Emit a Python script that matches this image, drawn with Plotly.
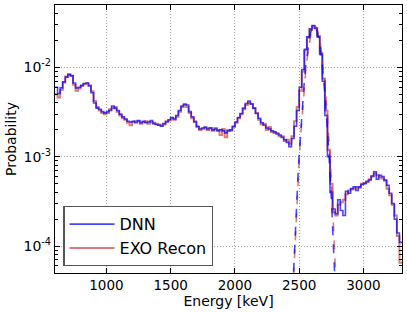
import plotly.graph_objects as go

# ---- data ----
bin_start = 600.0
bin_width = 20.0

dnn = [6.0e-3, 5.1e-3, 5.9e-3, 6.9e-3, 7.8e-3, 8.3e-3, 8.1e-3, 6.7e-3, 5.9e-3, 6.0e-3,
       6.3e-3, 6.6e-3, 6.7e-3, 6.2e-3, 5.2e-3, 4.0e-3, 3.5e-3, 3.4e-3, 3.2e-3, 3.1e-3,
       3.2e-3, 3.3e-3, 3.7e-3, 3.5e-3, 3.3e-3, 3.0e-3, 2.8e-3, 2.65e-3, 2.5e-3, 2.45e-3,
       2.5e-3, 2.4e-3, 2.55e-3, 2.4e-3, 2.5e-3, 2.4e-3, 2.45e-3, 2.55e-3, 2.35e-3, 2.3e-3,
       2.25e-3, 2.2e-3, 2.35e-3, 2.45e-3, 2.6e-3, 2.75e-3, 2.65e-3, 2.9e-3, 3.3e-3, 3.7e-3,
       3.9e-3, 3.8e-3, 3.2e-3, 2.8e-3, 2.45e-3, 2.2e-3, 2.05e-3, 2.1e-3, 2.15e-3, 2.05e-3,
       2.1e-3, 2.0e-3, 2.05e-3, 1.95e-3, 2.0e-3, 1.95e-3, 1.85e-3, 1.95e-3, 2.0e-3, 2.2e-3,
       2.45e-3, 2.75e-3, 3.05e-3, 3.5e-3, 3.95e-3, 4.2e-3, 3.9e-3, 3.5e-3, 3.05e-3, 2.7e-3,
       2.4e-3, 2.25e-3, 2.1e-3, 2.05e-3, 1.95e-3, 1.9e-3, 1.8e-3, 1.75e-3, 1.65e-3, 1.55e-3,
       1.45e-3, 1.3e-3, 1.6e-3, 2.2e-3, 3.3e-3, 6.0e-3, 9.5e-3, 1.6e-2, 2.2e-2, 2.7e-2,
       2.95e-2, 2.75e-2, 2.2e-2, 1.4e-2, 7.0e-3, 2.9e-3, 1.0e-3, 4.0e-4, 2.6e-4, 2.3e-4,
       3.3e-4, 2.5e-4, 2.2e-4, 4.1e-4, 3.9e-4, 4.4e-4, 4.6e-4, 4.2e-4, 4.6e-4, 4.9e-4,
       5.0e-4, 5.3e-4, 5.5e-4, 6.1e-4, 6.8e-4, 5.6e-4, 6.2e-4, 6.0e-4, 5.5e-4, 4.8e-4,
       3.9e-4, 3.0e-4, 2.0e-4, 1.4e-4, 1.1e-4]

exo = [5.0e-3, 4.6e-3, 5.6e-3, 6.8e-3, 7.9e-3, 8.4e-3, 8.0e-3, 6.4e-3, 5.5e-3, 5.8e-3,
       6.2e-3, 6.5e-3, 6.6e-3, 6.3e-3, 5.4e-3, 4.2e-3, 3.6e-3, 3.3e-3, 3.1e-3, 3.0e-3,
       3.1e-3, 3.4e-3, 3.5e-3, 3.6e-3, 3.2e-3, 2.9e-3, 2.7e-3, 2.6e-3, 2.4e-3, 2.25e-3,
       2.45e-3, 2.5e-3, 2.5e-3, 2.35e-3, 2.45e-3, 2.5e-3, 2.35e-3, 2.45e-3, 2.4e-3, 2.35e-3,
       2.3e-3, 2.25e-3, 2.3e-3, 2.5e-3, 2.55e-3, 2.7e-3, 2.6e-3, 2.8e-3, 3.2e-3, 3.6e-3,
       3.8e-3, 3.6e-3, 3.1e-3, 2.7e-3, 2.5e-3, 2.15e-3, 2.0e-3, 2.05e-3, 2.1e-3, 2.0e-3,
       2.1e-3, 1.95e-3, 2.1e-3, 2.0e-3, 1.75e-3, 2.05e-3, 1.65e-3, 2.0e-3, 1.95e-3, 2.15e-3,
       2.4e-3, 2.7e-3, 3.0e-3, 3.4e-3, 3.8e-3, 4.0e-3, 3.9e-3, 3.5e-3, 3.1e-3, 2.6e-3,
       2.3e-3, 2.35e-3, 2.0e-3, 2.15e-3, 1.9e-3, 1.85e-3, 1.85e-3, 1.7e-3, 1.7e-3, 1.5e-3,
       1.55e-3, 1.4e-3, 1.7e-3, 2.5e-3, 3.6e-3, 5.5e-3, 9.0e-3, 1.55e-2, 2.15e-2, 2.65e-2,
       2.9e-2, 2.75e-2, 2.25e-2, 1.45e-2, 7.5e-3, 3.3e-3, 1.2e-3, 5.0e-4, 2.4e-4, 2.2e-4,
       2.9e-4, 3.1e-4, 3.3e-4, 3.8e-4, 4.2e-4, 4.3e-4, 4.4e-4, 4.6e-4, 4.5e-4, 5.0e-4,
       5.1e-4, 5.2e-4, 5.6e-4, 6.0e-4, 6.5e-4, 6.2e-4, 5.9e-4, 5.7e-4, 5.4e-4, 4.4e-4,
       3.7e-4, 2.9e-4, 2.2e-4, 1.3e-4, 6.5e-5]

fit_energy_dnn = [2450, 2460, 2470, 2480, 2490, 2500, 2510, 2520, 2530, 2540, 2550, 2560,
                  2570, 2580, 2590, 2600, 2610, 2620, 2630, 2640, 2650, 2660, 2670, 2680,
                  2690, 2700, 2710, 2720, 2730, 2740, 2750, 2760, 2770, 2780, 2790]
fit_dnn = [3.25e-5, 7.2e-5, 1.52e-4, 3.05e-4, 5.8e-4, 1.06e-3, 1.83e-3, 3.0e-3, 4.72e-3,
           7.04e-3, 1.0e-2, 1.35e-2, 1.74e-2, 2.13e-2, 2.48e-2, 2.75e-2, 2.9e-2, 2.92e-2,
           2.79e-2, 2.54e-2, 2.2e-2, 1.82e-2, 1.43e-2, 1.07e-2, 7.58e-3, 5.13e-3, 3.3e-3,
           2.03e-3, 1.18e-3, 6.57e-4, 3.47e-4, 1.75e-4, 8.4e-5, 3.8e-5, 1.66e-5]

fit_energy_exo = [2450, 2460, 2470, 2480, 2490, 2500, 2510, 2520, 2530, 2540, 2550, 2560,
                  2570, 2580, 2590, 2600, 2610, 2620, 2630, 2640, 2650, 2660, 2670, 2680,
                  2690, 2700, 2710, 2720, 2730, 2740, 2750, 2760, 2770, 2780, 2790, 2800]
fit_exo = [2.9e-5, 6.3e-5, 1.33e-4, 2.64e-4, 5.0e-4, 9.1e-4, 1.58e-3, 2.6e-3, 4.1e-3,
           6.15e-3, 8.8e-3, 1.2e-2, 1.57e-2, 1.95e-2, 2.31e-2, 2.61e-2, 2.82e-2, 2.9e-2,
           2.85e-2, 2.66e-2, 2.38e-2, 2.03e-2, 1.65e-2, 1.27e-2, 9.4e-3, 6.6e-3, 4.46e-3,
           2.86e-3, 1.75e-3, 1.02e-3, 5.7e-4, 3.0e-4, 1.53e-4, 7.4e-5, 3.4e-5, 1.5e-5]

x_ticks = [1000, 1500, 2000, 2500, 3000]
y_ticks = [1e-4, 1e-3, 1e-2]
y_tick_labels = ["10<sup>-4</sup>", "10<sup>-3</sup>", "10<sup>-2</sup>"]
y_minor_ticks = [6e-5, 7e-5, 8e-5, 9e-5,
                 2e-4, 3e-4, 4e-4, 5e-4, 6e-4, 7e-4, 8e-4, 9e-4,
                 2e-3, 3e-3, 4e-3, 5e-3, 6e-3, 7e-3, 8e-3, 9e-3,
                 2e-2, 3e-2, 4e-2]

# ---- step-histogram coordinates ----
def step_xy(vals):
    xs = [bin_start + i * bin_width for i in range(len(vals) + 1)]
    ys = list(vals) + [vals[-1]]
    return xs, ys

BLUE = "rgba(0,0,255,0.72)"
RED = "rgba(200,40,40,0.62)"

fig = go.Figure()
xe, ye = step_xy(exo)
xd, yd = step_xy(dnn)
fig.add_trace(go.Scatter(x=xe, y=ye, mode="lines", line=dict(color=RED, width=2, shape="hv"),
                         name="EXO Recon", legendgroup="b", legendrank=2))
fig.add_trace(go.Scatter(x=xd, y=yd, mode="lines", line=dict(color=BLUE, width=1.6, shape="hv"),
                         name="DNN", legendgroup="a", legendrank=1))
fig.add_trace(go.Scatter(x=fit_energy_exo, y=fit_exo, mode="lines",
                         line=dict(color=RED, width=1.6, dash="dash"), showlegend=False))
fig.add_trace(go.Scatter(x=fit_energy_dnn, y=fit_dnn, mode="lines",
                         line=dict(color=BLUE, width=1.6, dash="dash"), showlegend=False))

FONT = "DejaVu Sans"
fig.update_layout(
    width=407, height=313,
    margin=dict(l=55, r=5, t=5, b=40),
    paper_bgcolor="white", plot_bgcolor="white",
    font=dict(family=FONT, size=14, color="black"),
    showlegend=True,
    legend=dict(x=0.024, y=0.026, xanchor="left", yanchor="bottom",
                bgcolor="white", bordercolor="#555555", borderwidth=1.2,
                font=dict(family=FONT, size=16), itemwidth=45, tracegroupgap=4,
                traceorder="normal"),
)
fig.update_xaxes(
    range=[600, 3300], tickvals=x_ticks, ticktext=[str(v) for v in x_ticks],
    showline=True, linecolor="black", linewidth=1.2, mirror="allticks",
    ticks="inside", ticklen=5, tickcolor="black",
    showgrid=True, gridcolor="#a0a0a0", griddash="1px,2px", gridwidth=1,
    zeroline=False, title=dict(text="Energy [keV]", standoff=3, font=dict(size=14)),
    tickfont=dict(size=13.5), automargin=False,
)
fig.update_yaxes(
    type="log", range=[-4.301, -1.301], tickvals=y_ticks, ticktext=y_tick_labels,
    showline=True, linecolor="black", linewidth=1.2, mirror="allticks",
    ticks="inside", ticklen=5, tickcolor="black",
    showgrid=True, gridcolor="#a0a0a0", griddash="1px,2px", gridwidth=1,
    minor=dict(tickvals=y_minor_ticks, ticks="inside", ticklen=2.5,
               tickcolor="black", showgrid=False),
    zeroline=False, title=dict(text="Probability", standoff=3, font=dict(size=14)),
    tickfont=dict(size=14), automargin=False,
)

fig.write_html("out.html", config={"displayModeBar": False},
               post_script="document.body.style.margin='0';document.body.style.padding='0';")
